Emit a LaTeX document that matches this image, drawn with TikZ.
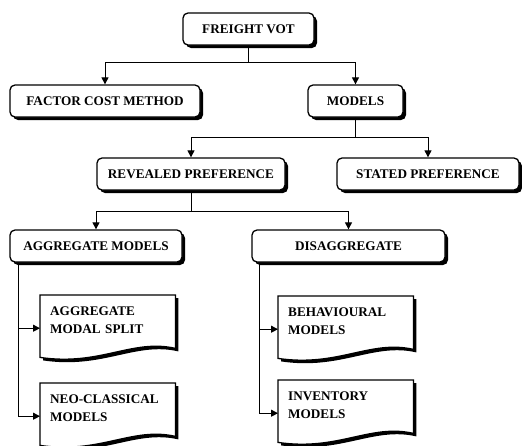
\documentclass[tikz,border=0pt]{standalone}
\usepackage{fontspec}
\setmainfont{Liberation Serif}
\usetikzlibrary{arrows.meta, shadows, backgrounds}
\tikzset{
  ft box/.style={
    rectangle, rounded corners=5pt, draw=black, fill=white,
    line width=1.3pt, minimum height=32pt, inner sep=2pt,
    font=\fontsize{13.2}{16}\selectfont\bfseries,
    drop shadow={shadow xshift=3pt, shadow yshift=-3pt, fill=black, opacity=1}
  },
  ft doc/.style={
    rectangle, anchor=north west, inner xsep=10pt, inner ysep=5pt,
    text width=115pt, text height=15pt, text depth=41pt, align=left,
    font=\fontsize{13.2}{18}\selectfont\bfseries
  },
  ft line/.style={
    line width=1pt, draw=black
  },
  ft arrow/.style={
    ft line, -{Triangle[length=7pt, width=7pt]}
  }
}

\begin{document}
\begin{tikzpicture}[x=1pt, y=-1pt]
  \useasboundingbox (0,0) rectangle (522,445);

  \node (vot) [ft box, minimum width=131pt] at (248.5,29) {FREIGHT VOT};
  \node (fcm) [ft box, minimum width=190pt] at (105,101) {FACTOR COST METHOD};
  \node (mod) [ft box, minimum width=95pt] at (355.5,101) {MODELS};
  \node (rev) [ft box, minimum width=188pt] at (191,174) {REVEALED PREFERENCE};
  \node (sta) [ft box, minimum width=182pt] at (428,174) {STATED PREFERENCE};
  \node (agg) [ft box, minimum width=172pt] at (96,246) {AGGREGATE MODELS};
  \node (dis) [ft box, minimum width=193pt] at (348.5,246) {DISAGGREGATE};

  \node (ams) [ft doc] at (40,295) {AGGREGATE\\MODAL SPLIT};
  \node (ncm) [ft doc] at (40,383) {NEO-CLASSICAL\\MODELS};
  \node (beh) [ft doc] at (278,296) {BEHAVIOURAL\\MODELS};
  \node (inv) [ft doc] at (278,380) {INVENTORY\\MODELS};

  % document outlines with wavy bottom
  \begin{scope}[on background layer]
    \foreach \n in {ams,ncm,beh,inv}{
      \fill[black] ([shift={(3,3)}]\n.north west) -- ([shift={(3,3)}]\n.north east)
        -- ([shift={(3,-10)}]\n.south east) .. controls +(-43,-10) and +(60,9) ..
        ([shift={(3,-1)}]\n.south west) -- cycle;
      \draw[ft line, line width=1.3pt, fill=white] (\n.north west) -- (\n.north east)
        -- ([shift={(0,-13)}]\n.south east) .. controls +(-43,-10) and +(60,9) ..
        ([shift={(0,-4)}]\n.south west) -- cycle;
    }
  \end{scope}

  \draw [ft arrow] (vot.south) -- ++(0,17) -| (fcm.north);
  \draw [ft arrow] (vot.south) -- ++(0,17) -| (mod.north);
  \draw [ft arrow] (mod.south) -- ++(0,20) -| (rev.north);
  \draw [ft arrow] (mod.south) -- ++(0,20) -| (sta.north);
  \draw [ft arrow] (rev.south) -- ++(0,21) -| (agg.north);
  \draw [ft arrow] (rev.south) -- ++(0,21) -| (dis.north);
  \draw [ft arrow] ([xshift=9pt]agg.south west) |- (ams.west);
  \draw [ft arrow] ([xshift=9pt]agg.south west) |- (ncm.west);
  \draw [ft arrow] ([xshift=8pt]dis.south west) |- (beh.west);
  \draw [ft arrow] ([xshift=8pt]dis.south west) |- (inv.west);
\end{tikzpicture}
\end{document}
